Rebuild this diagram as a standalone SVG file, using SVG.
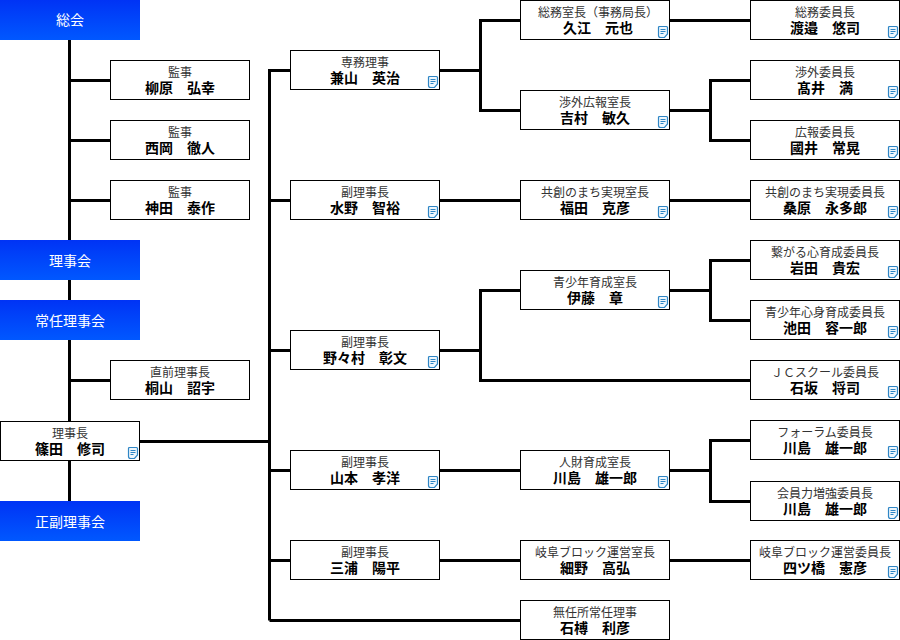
<svg xmlns="http://www.w3.org/2000/svg" width="900" height="640" viewBox="0 0 900 640">
<style>
text{font-family:"Noto Sans CJK JP","Noto Sans",sans-serif;text-anchor:middle}
.box{fill:#fff;stroke:#000;stroke-width:1}
.hd{fill:url(#g)}
.ht{fill:#fff;font-size:14px}
.t{fill:#333;font-size:12px}
.n{fill:#000;font-size:14px;font-weight:700}
#conn path{fill:none;stroke:#000;stroke-width:3}
</style>
<defs>
<linearGradient id="g" x1="0" y1="0" x2="0" y2="1"><stop offset="0" stop-color="#0033f5"/><stop offset="1" stop-color="#0058ff"/></linearGradient>
<symbol id="ic" width="10" height="12" viewBox="0 0 10 12" overflow="visible">
<path d="M1.500 .5H8.500Q9.500 .5 9.500 1.500V8L6.500 11.500H2.500Q.5 11.500 .5 9.500V1.500Q.5 .5 1.500 .5Z" fill="#eef6fc" stroke="#2f86c5" stroke-width="1.200"/>
<path d="M2.500 3.500H7.500M2.500 5.500H7.500M2.500 7.500H5.500" fill="none" stroke="#2f86c5"/>
</symbol>
</defs>
<g id="conn">
<path d="M69.500 40V501M69.500 80.500H110M69.500 140.500H110M69.500 200.500H110M69.500 380.500H110M140 441.500H269.500M269.500 620.500V70.500H290M269.500 200.500H290M269.500 350.500H290M269.500 470.500H290M269.500 560.500H290M269.500 620.500H520"/>
<path d="M440 70.500H480.500M520 20.500H480.500V110.500H520M670 20.500H750M670 110.500H710.500M750 80.500H710.500V140.500H750"/>
<path d="M440 200.500H520M670 200.500H750"/>
<path d="M440 350.500H480.500M520 290.500H480.500V380.500H750M670 290.500H710.500M750 260.500H710.500V320.500H750"/>
<path d="M440 470.500H520M670 470.500H710.500M750 440.500H710.500V501.500H750"/>
<path d="M440 560.500H520M670 560.500H750"/>
</g>
<g id="h1"><rect class="hd" x="0" y="0" width="140" height="40"/><text class="ht" x="70" y="25">総会</text></g>
<g id="h2"><rect class="hd" x="0" y="240" width="140" height="40"/><text class="ht" x="70" y="266">理事会</text></g>
<g id="h3"><rect class="hd" x="0" y="300" width="140" height="40"/><text class="ht" x="70" y="326">常任理事会</text></g>
<g id="h4"><rect class="hd" x="0" y="501" width="140" height="40"/><text class="ht" x="70" y="527">正副理事会</text></g>
<g id="a1"><rect class="box" x="110.500" y="60.500" width="139" height="39"/><text class="t" x="180" y="77">監事</text><text class="n" x="180" y="93">柳原　弘幸</text></g>
<g id="a2"><rect class="box" x="110.500" y="120.500" width="139" height="39"/><text class="t" x="180" y="137">監事</text><text class="n" x="180" y="153">西岡　徹人</text></g>
<g id="a3"><rect class="box" x="110.500" y="180.500" width="139" height="39"/><text class="t" x="180" y="197">監事</text><text class="n" x="180" y="213">神田　泰作</text></g>
<g id="a4"><rect class="box" x="110.500" y="360.500" width="139" height="39"/><text class="t" x="180" y="377">直前理事長</text><text class="n" x="180" y="393">桐山　詔宇</text></g>
<g id="p"><rect class="box" x=".5" y="421.500" width="139" height="39"/><text class="t" x="70" y="438">理事長</text><text class="n" x="70" y="454">篠田　修司</text><use href="#ic" x="128" y="447"/></g>
<g id="b1"><rect class="box" x="290.500" y="50.500" width="149" height="39"/><text class="t" x="365" y="67">専務理事</text><text class="n" x="365" y="83">兼山　英治</text><use href="#ic" x="428" y="76"/></g>
<g id="b2"><rect class="box" x="290.500" y="180.500" width="149" height="39"/><text class="t" x="365" y="197">副理事長</text><text class="n" x="365" y="213">水野　智裕</text><use href="#ic" x="428" y="206"/></g>
<g id="b3"><rect class="box" x="290.500" y="330.500" width="149" height="39"/><text class="t" x="365" y="347">副理事長</text><text class="n" x="365" y="363">野々村　彰文</text><use href="#ic" x="428" y="356"/></g>
<g id="b4"><rect class="box" x="290.500" y="450.500" width="149" height="39"/><text class="t" x="365" y="467">副理事長</text><text class="n" x="365" y="483">山本　孝洋</text><use href="#ic" x="428" y="476"/></g>
<g id="b5"><rect class="box" x="290.500" y="540.500" width="149" height="39"/><text class="t" x="365" y="557">副理事長</text><text class="n" x="365" y="573">三浦　陽平</text></g>
<g id="c1"><rect class="box" x="520.500" y=".5" width="149" height="39"/><text class="t" x="598" y="17">総務室長（事務局長）</text><text class="n" x="598" y="33">久江　元也</text><use href="#ic" x="658" y="26"/></g>
<g id="c2"><rect class="box" x="520.500" y="90.500" width="149" height="39"/><text class="t" x="595" y="107">渉外広報室長</text><text class="n" x="595" y="123">吉村　敏久</text><use href="#ic" x="658" y="116"/></g>
<g id="c3"><rect class="box" x="520.500" y="180.500" width="149" height="39"/><text class="t" x="595" y="197">共創のまち実現室長</text><text class="n" x="595" y="213">福田　克彦</text><use href="#ic" x="658" y="206"/></g>
<g id="c4"><rect class="box" x="520.500" y="270.500" width="149" height="39"/><text class="t" x="595" y="287">青少年育成室長</text><text class="n" x="595" y="303">伊藤　章</text><use href="#ic" x="658" y="296"/></g>
<g id="c5"><rect class="box" x="520.500" y="450.500" width="149" height="39"/><text class="t" x="595" y="467">人財育成室長</text><text class="n" x="595" y="483">川島　雄一郎</text><use href="#ic" x="658" y="476"/></g>
<g id="c6"><rect class="box" x="520.500" y="540.500" width="149" height="39"/><text class="t" x="595" y="557">岐阜ブロック運営室長</text><text class="n" x="595" y="573">細野　高弘</text></g>
<g id="c7"><rect class="box" x="520.500" y="600.500" width="149" height="39"/><text class="t" x="595" y="617">無任所常任理事</text><text class="n" x="595" y="633">石榑　利彦</text></g>
<g id="d1"><rect class="box" x="750.500" y=".5" width="149" height="39"/><text class="t" x="825" y="17">総務委員長</text><text class="n" x="825" y="33">渡邉　悠司</text><use href="#ic" x="888" y="26"/></g>
<g id="d2"><rect class="box" x="750.500" y="60.500" width="149" height="39"/><text class="t" x="825" y="77">渉外委員長</text><text class="n" x="825" y="93">髙井　満</text><use href="#ic" x="888" y="86"/></g>
<g id="d3"><rect class="box" x="750.500" y="120.500" width="149" height="39"/><text class="t" x="825" y="137">広報委員長</text><text class="n" x="825" y="153">國井　常晃</text><use href="#ic" x="888" y="146"/></g>
<g id="d4"><rect class="box" x="750.500" y="180.500" width="149" height="39"/><text class="t" x="825" y="197">共創のまち実現委員長</text><text class="n" x="825" y="213">桑原　永多郎</text><use href="#ic" x="888" y="206"/></g>
<g id="d5"><rect class="box" x="750.500" y="240.500" width="149" height="39"/><text class="t" x="825" y="257">繋がる心育成委員長</text><text class="n" x="825" y="273">岩田　貴宏</text><use href="#ic" x="888" y="266"/></g>
<g id="d6"><rect class="box" x="750.500" y="300.500" width="149" height="39"/><text class="t" x="825" y="317">青少年心身育成委員長</text><text class="n" x="825" y="333">池田　容一郎</text><use href="#ic" x="888" y="326"/></g>
<g id="d7"><rect class="box" x="750.500" y="360.500" width="149" height="39"/><text class="t" x="825" y="377">ＪＣスクール委員長</text><text class="n" x="825" y="393">石坂　将司</text><use href="#ic" x="888" y="386"/></g>
<g id="d8"><rect class="box" x="750.500" y="420.500" width="149" height="39"/><text class="t" x="825" y="437">フォーラム委員長</text><text class="n" x="825" y="453">川島　雄一郎</text><use href="#ic" x="888" y="446"/></g>
<g id="d9"><rect class="box" x="750.500" y="481.500" width="149" height="39"/><text class="t" x="825" y="498">会員力増強委員長</text><text class="n" x="825" y="514">川島　雄一郎</text><use href="#ic" x="888" y="507"/></g>
<g id="d10"><rect class="box" x="750.500" y="540.500" width="149" height="39"/><text class="t" x="825" y="557">岐阜ブロック運営委員長</text><text class="n" x="825" y="573">四ツ橋　憲彦</text><use href="#ic" x="888" y="566"/></g>
</svg>
